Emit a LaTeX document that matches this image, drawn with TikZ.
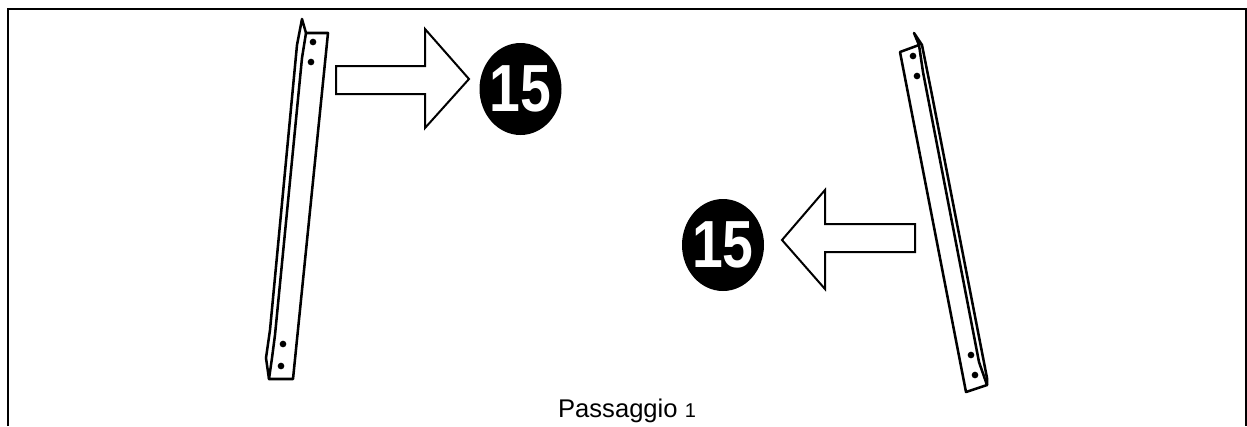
\documentclass[tikz,border=0pt]{standalone}
\usepackage{fontspec}
\setmainfont{Liberation Sans}
\usetikzlibrary{shapes.geometric}
\tikzset{
  railline/.style={line width=1.9pt,line join=round,line cap=round},
  railhole/.style={circle,fill=black,inner sep=0pt,minimum size=5pt},
  bigarrow/.style={line width=1.5pt,line join=miter},
  stepmark/.style={ellipse,fill=black,text=white,inner sep=0pt,minimum width=61.5pt,minimum height=69pt,font=\fontsize{50}{50}\selectfont\bfseries}
}
\newcommand{\stepnum}{\makebox[0pt]{\scalebox{0.83}[1]{15}}}
\begin{document}
\begin{tikzpicture}[x=0.75pt,y=-0.75pt]
\useasboundingbox (0,0) rectangle (1247,426);
% frame
\coordinate (frameA) at (8,426);
\coordinate (frameB) at (8,9);
\coordinate (frameC) at (1246,9);
\coordinate (frameD) at (1246,426);
\draw[line width=1.5pt] (frameA) -- (frameB) -- (frameC) -- (frameD);

% left rail
\draw[railline] (302,19) -- (306,33) -- (328,33) -- (293,379) -- (269,379) -- (266,358) -- (270,330) -- (297,45) -- cycle;
\draw[railline] (306,33) -- (302,58) -- (275,335) -- (272,358) -- (269,379);
\node[railhole] (holeA) at (313,42) {};
\node[railhole] (holeB) at (311,62) {};
\node[railhole] (holeC) at (283,344) {};
\node[railhole] (holeD) at (281,366) {};

% right rail
\draw[railline] (914,33) -- (922,45) -- (931,90) -- (987,378) -- (987,385) -- (966,392) -- (900,52) -- (919,45) -- cycle;
\draw[railline] (919,45) -- (923,72) -- (979,362) -- (987,385);
\node[railhole] (holeE) at (913,56) {};
\node[railhole] (holeF) at (917,76) {};
\node[railhole] (holeG) at (971,355) {};
\node[railhole] (holeH) at (975,375) {};

% arrows
\draw[bigarrow] (336,66) -- (425,66) -- (425,29) -- (469,79) -- (425,128) -- (425,94) -- (336,94) -- cycle;
\draw[bigarrow] (915,224) -- (825,224) -- (825,190) -- (782,240) -- (825,289) -- (825,252) -- (915,252) -- cycle;

\node[stepmark] (markA) at (520.5,89) {\stepnum};
\node[stepmark] (markB) at (723,245) {\stepnum};

\node[font=\fontsize{19.2}{22}\selectfont] (caption) at (627,411) {Passaggio {\fontsize{15}{22}\selectfont 1}};
\end{tikzpicture}
\end{document}
